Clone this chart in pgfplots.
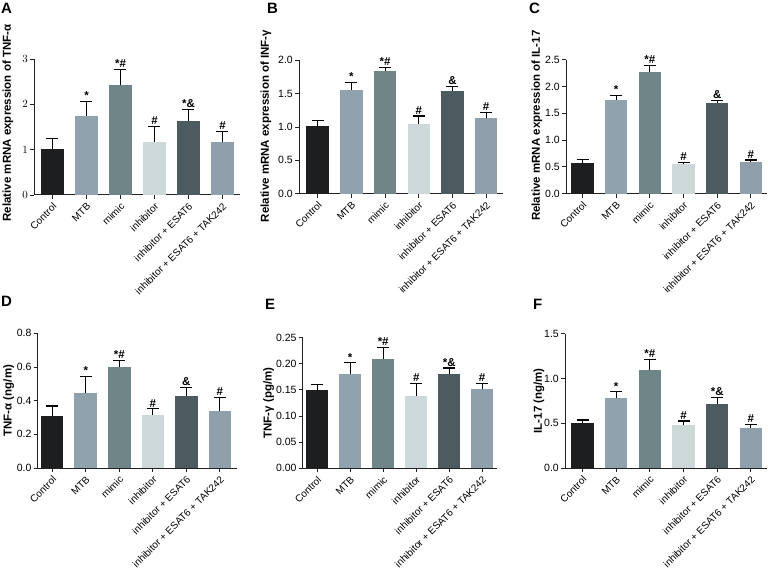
\documentclass[border=0pt]{standalone}
\usepackage{fontspec}
\setmainfont{Liberation Sans}
\usepackage{pgfplots}
\usepackage{pgfplotstable}
\pgfplotsset{compat=1.18}

\definecolor{c0}{HTML}{1C1E20}
\definecolor{c1}{HTML}{8FA2AE}
\definecolor{c2}{HTML}{6F8588}
\definecolor{c3}{HTML}{CDD8D8}
\definecolor{c4}{HTML}{4B5B5F}
\definecolor{c5}{HTML}{8FA0AC}
\definecolor{axcol}{HTML}{222222}

% x = group index, y = mean, e = SD (upper error only), lab = significance mark
\pgfplotstableread{
x y e lab
0 1.02 0.22 {}
1 1.75 0.32 *
2 2.42 0.35 *\#
3 1.18 0.33 \#
4 1.64 0.25 *\&
5 1.16 0.25 \#
}\tabA
\pgfplotstableread{
x y e lab
0 1.015 0.080 {}
1 1.560 0.110 *
2 1.845 0.050 *\#
3 1.045 0.120 \#
4 1.540 0.070 \&
5 1.130 0.085 \#
}\tabB
\pgfplotstableread{
x y e lab
0 0.566 0.074 {}
1 1.747 0.093 *
2 2.270 0.120 *\#
3 0.547 0.038 \#
4 1.685 0.062 \&
5 0.590 0.038 \#
}\tabC
\pgfplotstableread{
x y e lab
0 0.307 0.061 {}
1 0.448 0.095 *
2 0.600 0.040 *\#
3 0.317 0.035 \#
4 0.430 0.049 \&
5 0.337 0.083 \#
}\tabD
\pgfplotstableread{
x y e lab
0 0.150 0.010 {}
1 0.181 0.021 *
2 0.210 0.022 *\#
3 0.138 0.025 \#
4 0.180 0.012 *\&
5 0.151 0.011 \#
}\tabE
\pgfplotstableread{
x y e lab
0 0.499 0.037 {}
1 0.778 0.074 *
2 1.090 0.120 *\#
3 0.476 0.049 \#
4 0.718 0.067 *\&
5 0.450 0.034 \#
}\tabF

\pgfplotsset{
  panel/.style={
    scale only axis, anchor=south west, clip=false,
    axis x line*=bottom, axis y line*=left,
    axis line style={line width=1pt, axcol, -},
    tick style={line width=0.9pt, axcol},
    tick align=outside, major tick length=4pt,
    xtick={0,...,5},
    xticklabels={Control,MTB,mimic,inhibitor,inhibitor + ESAT6,inhibitor + ESAT6 + TAK242},
    x tick label style={shift={(3pt,-5pt)}, rotate=45, anchor=east, inner sep=1pt,
      font=\fontsize{10}{12}\selectfont},
    y tick label style={inner sep=2pt, font=\fontsize{10.5}{12}\selectfont},
    ymin=0,
  },
  ylab/.style 2 args={every axis y label/.style={
      at={([xshift=#1,yshift=#2]axis description cs:0,0.5)}, rotate=90,
      anchor=center, font=\bfseries\fontsize{11.5}{13}\selectfont}},
}

\newcommand\bars[1]{%
  \pgfplotsinvokeforeach{0,...,5}{%
    \addplot[ybar, bar width=22.5pt, bar shift=0pt, fill=c##1, draw=none,
      error bars/.cd, y dir=plus, y explicit,
      error bar style={line width=1.1pt, black},
      error mark options={rotate=90, mark size=6pt, line width=1.1pt, black}]
      table[x=x, y=y, y error=e, restrict x to domain=##1:##1] {#1};
  }
  \addplot[draw=none, mark=none, nodes near coords, point meta=explicit symbolic,
    nodes near coords style={font=\bfseries\fontsize{11.5}{13}\selectfont,
      anchor=south, inner sep=1.5pt, black}]
    table[x=x, y expr=\thisrow{y}+\thisrow{e}, meta=lab] {#1};
}

\begin{document}
\begin{tikzpicture}
\useasboundingbox (0,0) rectangle (768pt,571pt);

% ---- top row ----
\begin{axis}[panel, at={(34pt,376pt)}, width=206pt, height=136pt,
  xmin=-0.544, xmax=5.515, ymax=3, ytick={0,1,2,3},
  ylab={-26pt}{4pt}, ylabel={Relative mRNA expression of TNF-α}]
\bars{\tabA}
\end{axis}

\begin{axis}[panel, at={(299pt,377.3pt)}, width=204pt, height=133.4pt,
  xmin=-0.555, xmax=5.5, ymax=2, ytick={0,0.5,1,1.5,2},
  yticklabels={0.0,0.5,1.0,1.5,2.0},
  ylab={-33pt}{1pt}, ylabel={Relative mRNA expression of INF-γ}]
\bars{\tabB}
\end{axis}

\begin{axis}[panel, at={(566pt,377.3pt)}, width=201pt, height=134pt,
  xmin=-0.49, xmax=5.48, ymax=2.5, ytick={0,0.5,1,1.5,2,2.5},
  yticklabels={0.0,0.5,1.0,1.5,2.0,2.5},
  ylab={-29pt}{1pt}, ylabel={Relative mRNA expression of IL-17}]
\bars{\tabC}
\end{axis}

% ---- bottom row ----
\begin{axis}[panel, at={(37.7pt,103pt)}, width=199.6pt, height=134.7pt,
  xmin=-0.433, xmax=5.52, ymax=0.8, ytick={0,0.2,0.4,0.6,0.8},
  yticklabels={0.0,0.2,0.4,0.6,0.8},
  ylab={-29pt}{0pt}, ylabel={TNF-α (ng/m)}]
\bars{\tabD}
\end{axis}

\begin{axis}[panel, at={(302.7pt,102.7pt)}, width=194pt, height=130.6pt,
  xmin=-0.44, xmax=5.44, ymax=0.25, ytick={0,0.05,0.1,0.15,0.2,0.25},
  yticklabels={0.00,0.05,0.10,0.15,0.20,0.25},
  ylab={-34pt}{0pt}, ylabel={TNF-γ (pg/m)}]
\bars{\tabE}
\end{axis}

\begin{axis}[panel, at={(565pt,103pt)}, width=202pt, height=134.3pt,
  xmin=-0.52, xmax=5.48, ymax=1.5, ytick={0,0.5,1,1.5},
  yticklabels={0.0,0.5,1.0,1.5},
  ylab={-26pt}{0pt}, ylabel={IL-17 (ng/m)}]
\bars{\tabF}
\end{axis}

% panel letters
\begin{scope}[every node/.style={anchor=north west, inner sep=0pt,
    font=\bfseries\fontsize{15}{17}\selectfont}]
\node at (1pt,568pt) {A};
\node at (267pt,568pt) {B};
\node at (529pt,568pt) {C};
\node at (1pt,275pt) {D};
\node at (265pt,272pt) {E};
\node at (533pt,272pt) {F};
\end{scope}
\end{tikzpicture}
\end{document}
